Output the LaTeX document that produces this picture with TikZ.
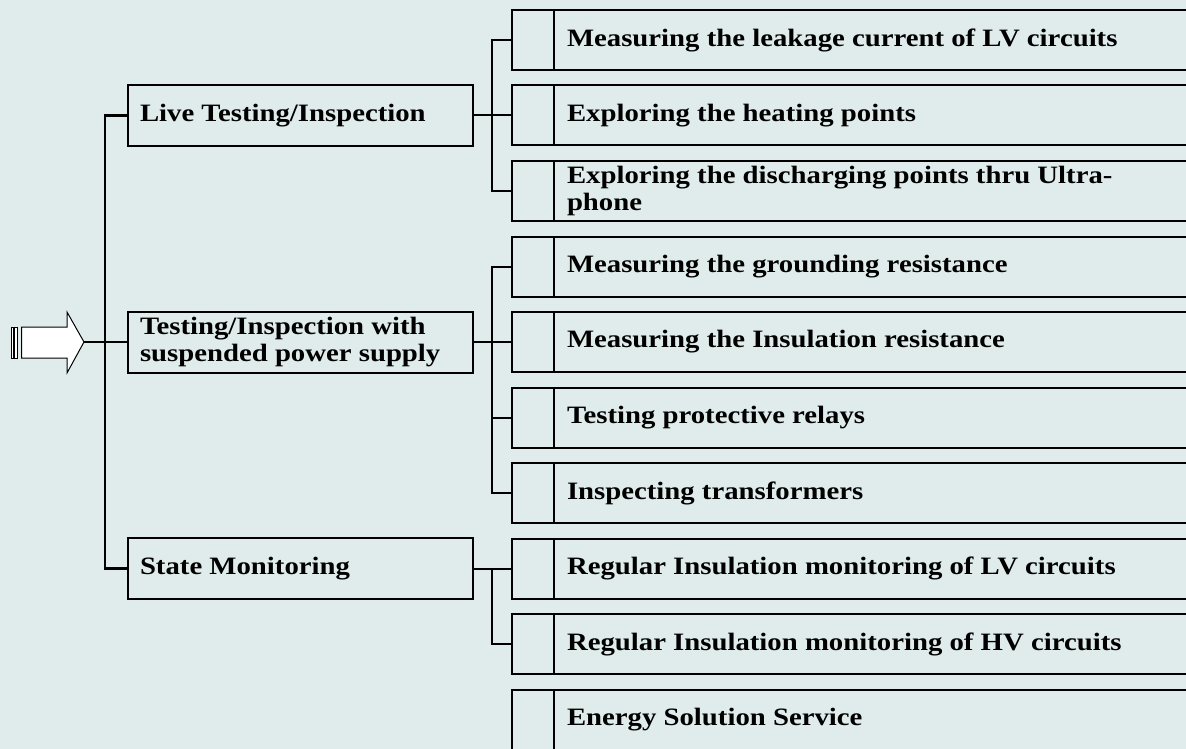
\documentclass[tikz,border=0pt]{standalone}
\usepackage{fontspec}
\setmainfont{Liberation Serif}[FakeStretch=1.15]
\usetikzlibrary{calc}
\definecolor{canvas}{HTML}{E0ECEC}
\newcommand{\boxfont}{\fontsize{25}{27}\selectfont\bfseries}
\newcommand{\tasktext}[1]{\hspace*{55pt}\parbox[c]{660pt}{\raggedright #1}}

\begin{document}
\begin{tikzpicture}[
    x=1pt, y=1pt,
    group/.style={
        draw,
        line width=2pt,
        anchor=west,
        minimum height=61pt,
        text width=321pt,
        inner xsep=12pt,
        align=flush left,
        font=\boxfont
    },
    task/.style={
        draw,
        line width=2pt,
        anchor=west,
        minimum height=60pt,
        inner xsep=0pt,
        font=\boxfont,
        path picture={\draw[line width=2pt]
            ([xshift=42pt]path picture bounding box.north west) --
            ([xshift=42pt]path picture bounding box.south west);}
    },
    link/.style={line width=2pt},
    trunk/.style={line width=2.8pt},
    shell/.style={line width=1pt, fill=white}
]

\useasboundingbox (0,0) rectangle (1186,-749);
\clip (0,0) rectangle (1186,-749);
\fill[canvas] (0,0) rectangle (1186,-749);

% Three kinds of service (left column)
\node[group] (live) at (127,-115.5) {Live Testing/Inspection};
\node[group] (susp) at (127,-342) {Testing/Inspection with\\suspended power supply};
\node[group] (state) at (127,-568.5) {State Monitoring};

% Single tasks (right column, running off the page)
\node[task] (m1) at (511,-40) {\tasktext{Measuring the leakage current of LV circuits}};
\node[task] (m2) at (511,-115.5) {\tasktext{Exploring the heating points}};
\node[task] (m3) at (511,-191) {\tasktext{Exploring the discharging points thru Ultra-\\phone}};
\node[task] (m4) at (511,-266.5) {\tasktext{Measuring the grounding resistance}};
\node[task] (m5) at (511,-342) {\tasktext{Measuring the Insulation resistance}};
\node[task] (m6) at (511,-417.5) {\tasktext{Testing protective relays}};
\node[task] (m7) at (511,-493) {\tasktext{Inspecting transformers}};
\node[task] (m8) at (511,-568.5) {\tasktext{Regular Insulation monitoring of LV circuits}};
\node[task] (m9) at (511,-644) {\tasktext{Regular Insulation monitoring of HV circuits}};
\node[task] (m10) at (511,-719.5) {\tasktext{Energy Solution Service}};

% Striped entry arrow
\coordinate (tip) at (84,-342);
\draw[shell] (11,-327) rectangle (13.5,-358);
\draw[shell] (14.8,-327) rectangle (17.5,-358);
\draw[shell] (21.7,-327) -- (67,-327) -- (67,-312) -- (tip)
    -- (67,-373) -- (67,-358) -- (21.7,-358) -- cycle;

% Trunk to the three groups
\draw[trunk] (live.west) -- ++(-22,0) |- (state.west);
\draw[trunk] (tip) -- (susp.west);

% Branches to the tasks
\draw[link] (m1.west) -- ++(-19,0) |- (m3.west);
\draw[link] (live.east) -- (m2.west);
\draw[link] (m4.west) -- ++(-19,0) |- (m7.west);
\draw[link] (m6.west) -- ++(-19,0);
\draw[link] (susp.east) -- (m5.west);
\draw[link] (m8.west) -- ++(-19,0) |- (m9.west);
\draw[link] (state.east) -- (m8.west);

\end{tikzpicture}
\end{document}
